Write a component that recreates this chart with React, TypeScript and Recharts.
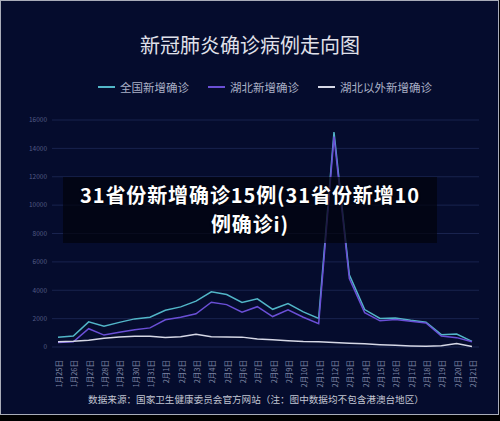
import { LineChart, Line, XAxis, YAxis, CartesianGrid } from 'recharts'

const dates = [
  '1月25日', '1月26日', '1月27日', '1月28日', '1月29日', '1月30日', '1月31日',
  '2月1日', '2月2日', '2月3日', '2月4日', '2月5日', '2月6日', '2月7日',
  '2月8日', '2月9日', '2月10日', '2月11日', '2月12日', '2月13日', '2月14日',
  '2月15日', '2月16日', '2月17日', '2月18日', '2月19日', '2月20日', '2月21日',
]
const national = [688, 769, 1771, 1459, 1737, 1982, 2102, 2590, 2829, 3235, 3887, 3694, 3143, 3399, 2656, 3062, 2478, 2015, 15152, 5090, 2641, 2009, 2048, 1886, 1749, 870, 910, 397]
const hubei = [323, 371, 1291, 840, 1032, 1220, 1347, 1921, 2103, 2345, 3156, 2987, 2447, 2841, 2147, 2618, 2097, 1638, 14840, 4823, 2420, 1843, 1933, 1807, 1693, 775, 660, 366]
const outside = [365, 398, 480, 619, 705, 762, 755, 669, 726, 890, 731, 707, 696, 558, 509, 444, 381, 377, 312, 267, 221, 166, 115, 79, 56, 95, 250, 31]
const yTicks = [0, 2000, 4000, 6000, 8000, 10000, 12000, 14000, 16000]

const seriesNames = ['全国新增确诊', '湖北新增确诊', '湖北以外新增确诊']
const seriesColors = ['#52b6c8', '#6a4fd6', '#d6d8e6']

const title = '新冠肺炎确诊病例走向图'
const source = '数据来源：国家卫生健康委员会官方网站（注：图中数据均不包含港澳台地区）'
const headline1 = '31省份新增确诊15例(31省份新增10'
const headline2 = '例确诊i)'

const data = dates.map((d, i) => ({
  date: d,
  national: national[i],
  hubei: hubei[i],
  outside: outside[i],
}))

const FONT = '"Noto Sans CJK SC", "Noto Sans", sans-serif'

// rotated date labels, reading bottom to top
const DateTick = ({ x, y, payload }: { x?: number; y?: number; payload?: { value: string } }) => {
  const tx = (x ?? 0) + 0.5
  const ty = (y ?? 0) + 5
  return (
    <text
      x={tx}
      y={ty}
      transform={`rotate(-90, ${tx}, ${ty})`}
      textAnchor="end"
      dominantBaseline="central"
      fill="#7c84a2"
      fontSize={7.5}
      fontFamily={FONT}
    >
      {payload?.value}
    </text>
  )
}

const legendX = [98, 208, 318]

export default function App() {
  return (
    <div style={{ position: 'relative', width: 500, height: 421, background: '#000', fontFamily: FONT }}>
      <style>{'body{margin:0}'}</style>
      <div
        style={{
          position: 'absolute',
          left: 0,
          top: 0,
          width: 497,
          height: 413,
          border: '1px solid #a9adb9',
          background: '#050c2d',
        }}
      />
      <div
        style={{
          position: 'absolute',
          top: 32,
          left: 0,
          width: 500,
          textAlign: 'center',
          color: '#e0e1ea',
          fontSize: 20,
          lineHeight: '26px',
        }}
      >
        {title}
      </div>

      {seriesNames.map((name, i) => (
        <div key={name} style={{ position: 'absolute', left: legendX[i], top: 79 }}>
          <div
            style={{
              position: 'absolute',
              left: 0,
              top: 7,
              width: 17,
              height: 2,
              background: seriesColors[i],
            }}
          />
          <div
            style={{
              position: 'absolute',
              left: 22,
              top: 0,
              whiteSpace: 'nowrap',
              color: '#aab0c6',
              fontSize: 11.5,
              lineHeight: '16px',
            }}
          >
            {name}
          </div>
        </div>
      ))}

      <div style={{ position: 'absolute', left: 0, top: 0 }}>
        <LineChart
          width={500}
          height={421}
          data={data}
          margin={{ top: 120, right: 21, left: 0, bottom: 0 }}
        >
          <CartesianGrid vertical={false} stroke="#19234e" strokeWidth={1} />
          <XAxis
            dataKey="date"
            interval={0}
            height={74}
            axisLine={false}
            tickLine={false}
            padding={{ left: 6, right: 7 }}
            tick={<DateTick />}
          />
          <YAxis
            domain={[0, 16000]}
            ticks={yTicks}
            width={52}
            axisLine={false}
            tickLine={false}
            tickSize={3}
            tickMargin={2}
            tick={{ fill: '#525b84', fontSize: 6.5, fontFamily: FONT }}
          />
          <Line dataKey="national" stroke={seriesColors[0]} strokeWidth={1.5} dot={false} isAnimationActive={false} />
          <Line dataKey="hubei" stroke={seriesColors[1]} strokeWidth={1.5} dot={false} isAnimationActive={false} />
          <Line dataKey="outside" stroke={seriesColors[2]} strokeWidth={1.5} dot={false} isAnimationActive={false} />
        </LineChart>
      </div>

      <div
        style={{
          position: 'absolute',
          left: 63,
          top: 177,
          width: 374,
          height: 66,
          background: 'rgba(1, 3, 12, 0.72)',
        }}
      />
      <div
        style={{
          position: 'absolute',
          left: 63,
          top: 180,
          width: 374,
          textAlign: 'center',
          color: '#ffffff',
          fontWeight: 700,
          fontSize: 20,
          lineHeight: '29px',
          letterSpacing: 0.9,
          textShadow: '0 1px 2px rgba(0,0,0,0.6)',
        }}
      >
        <div style={{ whiteSpace: 'nowrap' }}>{headline1}</div>
        <div style={{ whiteSpace: 'nowrap' }}>{headline2}</div>
      </div>

      <div
        style={{
          position: 'absolute',
          top: 392,
          left: 0,
          width: 512,
          textAlign: 'center',
          color: '#c2c5d2',
          fontSize: 9.6,
          lineHeight: '14px',
          whiteSpace: 'nowrap',
        }}
      >
        {source}
      </div>
    </div>
  )
}
